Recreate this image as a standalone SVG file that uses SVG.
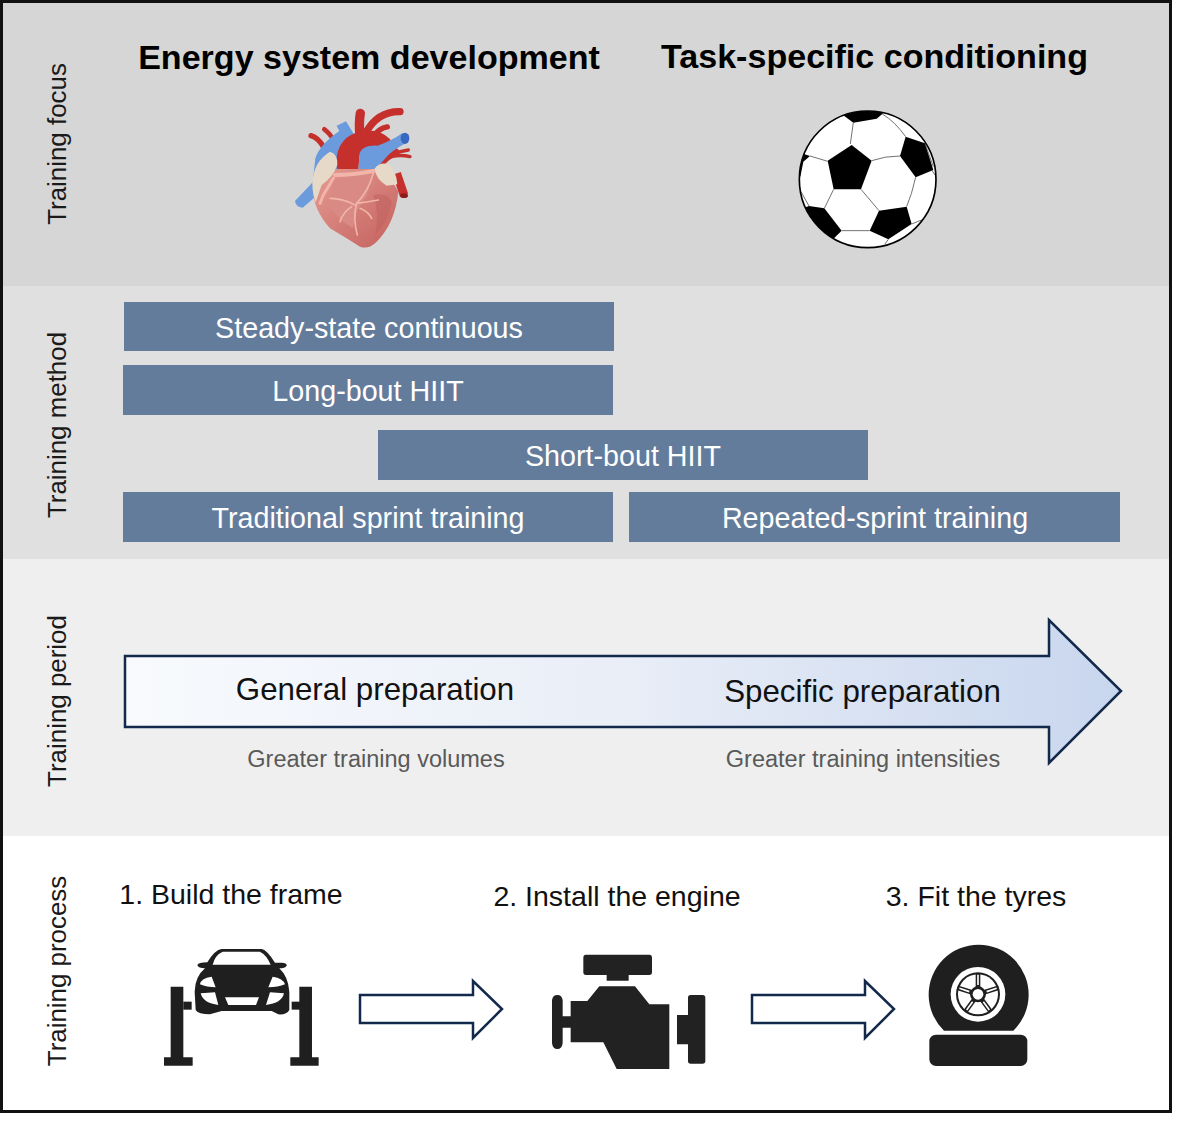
<svg xmlns="http://www.w3.org/2000/svg" width="1200" height="1135" viewBox="0 0 1200 1135">
<style>
text{font-family:"Liberation Sans",Arial,sans-serif}
.h{font-size:34.05px;font-weight:bold;fill:#000;text-anchor:middle}
.s{font-size:25.9px;fill:#1a1a1a;text-anchor:middle}
.b{font-size:28.7px;fill:#fff;text-anchor:middle}
.p{font-size:31.3px;fill:#111;text-anchor:middle}
.n{font-size:23.5px;fill:#595959;text-anchor:middle}
.t{font-size:28.5px;fill:#111;text-anchor:middle}
.box{fill:#647c9c}
.arrow{stroke:#13294b;stroke-width:2.5;fill:#fff;stroke-linejoin:miter}
.seam{fill:none;stroke:#555;stroke-width:2.5}
</style>
<defs>
<linearGradient id="g" x1="0" x2="1" y1="0" y2="0"><stop offset="0" stop-color="#f8fafd"/><stop offset="0.5" stop-color="#e9eef7"/><stop offset="1" stop-color="#c8d6ee"/></linearGradient>
<linearGradient id="hb" x1="0" x2="1" y1="0" y2="1"><stop offset="0" stop-color="#e59c94"/><stop offset="1" stop-color="#c4605c"/></linearGradient>
<clipPath id="ballclip"><circle cx="248" cy="238" r="205"/></clipPath>
</defs>
<g id="bands">
<rect x="2" y="2" width="1168" height="284" fill="#d6d6d6"/>
<rect x="2" y="286" width="1168" height="273" fill="#e0e0e0"/>
<rect x="2" y="559" width="1168" height="277" fill="#efefef"/>
<rect x="2" y="836" width="1168" height="275" fill="#fff"/>
<rect x="1.5" y="1.5" width="1169" height="1110" fill="none" stroke="#111" stroke-width="3"/>
</g>
<g id="row-labels">
<text class="s" transform="translate(66,144) rotate(-90)">Training focus</text>
<text class="s" transform="translate(66,425) rotate(-90)">Training method</text>
<text class="s" transform="translate(66,701) rotate(-90)">Training period</text>
<text class="s" transform="translate(66,971) rotate(-90)">Training process</text>
</g>
<g id="focus-energy">
<text class="h" x="369" y="68.500">Energy system development</text>
<g transform="translate(280,95) scale(0.3333)">
<g fill="none" stroke-linecap="round">
<path d="M93,122 Q115,128 132,158" stroke="#c5302c" stroke-width="16"/>
<path d="M133,103 Q150,115 162,138" stroke="#c5302c" stroke-width="14"/>
</g>
<path d="M45,318 L98,262 L106,190 Q118,150 178,108 L170,92 L198,79 L220,115 L215,170 L170,225 L122,292 L68,338 Q48,337 45,318Z" fill="#6b9bdc"/>
<g fill="none" stroke="#c5302c" stroke-linecap="round">
<path d="M241,55 Q236,85 240,125" stroke-width="28"/>
<path d="M360,50 Q295,48 258,112" stroke-width="22"/>
<path d="M322,96 Q300,100 285,118" stroke-width="16"/>
<path d="M345,172 Q318,180 298,208" stroke-width="26"/>
<path d="M390,185 Q360,178 335,185" stroke-width="10"/>
<path d="M385,165 Q360,168 340,178" stroke-width="10"/>
<path d="M350,235 L372,300" stroke-width="26" stroke-linecap="butt"/>
</g>
<path d="M172,222 Q162,165 198,130 Q235,100 285,108 Q325,118 335,142 L292,155 Q245,150 238,185 L235,225Z" fill="#c5302c"/>
<path d="M238,178 Q245,150 292,152 Q330,140 368,114 L386,140 Q345,160 325,180 L285,225 L236,225Z" fill="#6b9bdc"/>
<ellipse cx="375" cy="130" rx="13" ry="17" fill="#3868c0"/>
<ellipse cx="372" cy="302" rx="12" ry="7" fill="#8e1c1c"/>
<path d="M98,280 Q100,345 150,400 Q200,430 240,455 Q265,465 290,440 Q345,385 355,290 L340,265 L285,222 L170,222 Z" fill="url(#hb)"/>
<path d="M160,255 Q220,235 278,235 L262,300 L232,345 L218,400 Q170,370 145,330 Z" fill="#d98a84"/>
<path d="M280,300 Q320,290 335,320 Q325,380 285,420 Q300,360 280,300Z" fill="#bf5f5b" opacity="0.5"/>
<path d="M97,265 Q100,200 150,170 Q175,178 172,210 Q160,245 125,270 L107,322 Q97,295 97,265Z" fill="#e7d9c8"/>
<path d="M283,222 Q300,200 325,208 Q350,230 352,268 L320,272 Q290,255 283,222Z" fill="#e7d9c8"/>
<g fill="none" stroke="#f1b5aa" stroke-linecap="round">
<path d="M165,240 Q220,240 280,228" stroke-width="12"/>
<path d="M280,235 Q265,290 230,325 Q218,370 232,420" stroke-width="5"/>
<path d="M150,310 Q190,310 225,330 M230,325 Q265,320 295,315 M215,335 Q190,350 180,380 M240,340 Q265,350 275,370" stroke-width="5"/>
<path d="M160,250 L130,300 L120,325" stroke-width="9"/>
</g>
</g>
</g>
<g id="focus-task">
<text class="h" x="874.500" y="67.500">Task-specific conditioning</text>
<g transform="translate(785,100) scale(0.3333)">
<circle cx="248" cy="238" r="205" fill="#fff"/>
<g clip-path="url(#ballclip)">
<g fill="#000">
<path d="M200,135 L260,182 L228,268 L146,268 L128,182Z"/>
<path d="M362,110 L420,130 L445,210 L392,232 L345,168Z"/>
<path d="M165,30 H300 L292,42 L275,56 L205,68 L170,42Z"/>
<path d="M282,332 L365,320 L380,372 L310,418 L254,392Z"/>
<path d="M72,318 L118,325 L170,392 L150,412 L100,440 L40,330Z"/>
<path d="M75,168 L55,185 L46,230 L30,200 L50,160Z"/>
</g>
<path class="seam" d="M205,68 L196,132 M75,168 L128,184 M260,182 Q300,168 345,168 M292,42 Q330,65 362,110 M392,232 Q380,285 365,320 M228,268 L282,332 M146,268 L118,325 M170,392 L254,392 M440,210 L450,225 M48,275 L72,318 M310,418 L300,432 M380,372 L410,360 M420,130 L445,200"/>
</g>
<circle cx="248" cy="238" r="205" fill="none" stroke="#000" stroke-width="5"/>
</g>
</g>
<g id="method-steady"><rect class="box" x="124" y="302" width="490" height="49"/><text class="b" x="369" y="337.500">Steady-state continuous</text></g>
<g id="method-long"><rect class="box" x="123" y="365" width="490" height="50"/><text class="b" x="368" y="401">Long-bout HIIT</text></g>
<g id="method-short"><rect class="box" x="378" y="430" width="490" height="50"/><text class="b" x="623" y="466">Short-bout HIIT</text></g>
<g id="method-sprint"><rect class="box" x="123" y="492" width="490" height="50"/><text class="b" x="368" y="528">Traditional sprint training</text></g>
<g id="method-repeated"><rect class="box" x="629" y="492" width="491" height="50"/><text class="b" x="875" y="528">Repeated-sprint training</text></g>
<g id="period">
<path d="M125,656 H1049 V620 L1121,691 L1049,763 V727 H125Z" fill="url(#g)" stroke="#13294b" stroke-width="2.500"/>
<text class="p" x="375" y="700">General preparation</text>
<text class="p" x="862.500" y="702">Specific preparation</text>
<text class="n" x="376" y="767">Greater training volumes</text>
<text class="n" x="863" y="767">Greater training intensities</text>
</g>
<g id="step-frame">
<text class="t" x="231" y="904">1. Build the frame</text>
<g transform="translate(150,935) scale(0.3333)" fill="#1f1f1f">
<path d="M62,155 H100 V367 H128 V392 H42 V367 H62Z"/>
<rect x="100" y="200" width="25" height="24"/>
<path d="M448,155 H486 V367 H506 V392 H421 V367 H448Z"/>
<rect x="425" y="200" width="25" height="24"/>
<path fill-rule="evenodd" d="M215,42 H335 Q350,44 375,83 H395 Q412,84 410,92 Q405,100 388,100 Q415,125 418,170 V225 Q410,240 385,238 L365,228 H215 L180,238 Q145,238 137,225 L134,170 Q135,125 165,100 Q145,100 142,90 Q145,82 172,82 Q195,44 215,42Z M218,50 Q195,60 188,89 H362 Q350,60 330,50Z M150,148 Q152,130 185,125 L197,157 Q170,157 150,148Z M405,148 Q400,130 368,125 L355,157 Q385,157 405,148Z M152,175 L195,172 L205,210 Q160,205 152,175Z M402,175 L360,172 L348,210 Q395,205 402,175Z M225,187 H327 L318,210 H235Z"/>
</g>
</g>
<g id="connectors">
<path class="arrow" d="M360,995 H473 V981 L502,1009 L473,1038 V1023 H360Z"/>
<path class="arrow" d="M752,995 H865 V981 L894,1009 L865,1038 V1023 H752Z"/>
</g>
<g id="step-engine">
<text class="t" x="617" y="906">2. Install the engine</text>
<g transform="translate(540,935) scale(0.3333)" fill="#222">
<path d="M138,59 H328 Q336,59 336,68 V112 Q336,120 328,120 H266 V137 H200 V120 H138 Q130,120 130,112 V68 Q130,59 138,59Z"/>
<path d="M178,154 H285 L328,208 H388 V402 H230 L190,322 H92 V278 H68 V324 Q66,342 52,342 Q38,342 36,324 V196 Q38,180 52,180 Q66,180 68,196 V244 H92 V198 H142Z"/>
<path d="M452,180 H488 Q496,180 496,188 V378 Q496,386 488,386 H452 Q444,386 444,378 V328 H411 V240 H444 V188 Q444,180 452,180Z"/>
</g>
</g>
<g id="step-tyres">
<text class="t" x="976" y="906">3. Fit the tyres</text>
<g transform="translate(900,930) scale(0.3333)">
<path d="M132,302 A150,150 0 1 1 340,302Z" fill="#1f1f1f"/>
<rect x="88" y="314" width="294" height="94" rx="20" fill="#1f1f1f"/>
<circle cx="234" cy="193" r="82" fill="#fff"/>
<circle cx="234" cy="193" r="66" fill="#1f1f1f"/>
<circle cx="234" cy="193" r="60" fill="#fff"/>
<g stroke="#1f1f1f" stroke-width="14" fill="none">
<path d="M234,193 V130" />
<path d="M234,193 L296,173" />
<path d="M234,193 L172,173" />
<path d="M234,193 L272,245" />
<path d="M234,193 L196,245" />
</g>
<g stroke="#fff" stroke-width="5" fill="none">
<path d="M234,165 V134" />
<path d="M260,185 L290,175" />
<path d="M208,185 L178,175" />
<path d="M250,215 L268,240" />
<path d="M218,215 L200,240" />
</g>
<circle cx="234" cy="193" r="24" fill="#1f1f1f"/>
<circle cx="234" cy="193" r="16" fill="#fff"/>
</g>
</g>
</svg>
